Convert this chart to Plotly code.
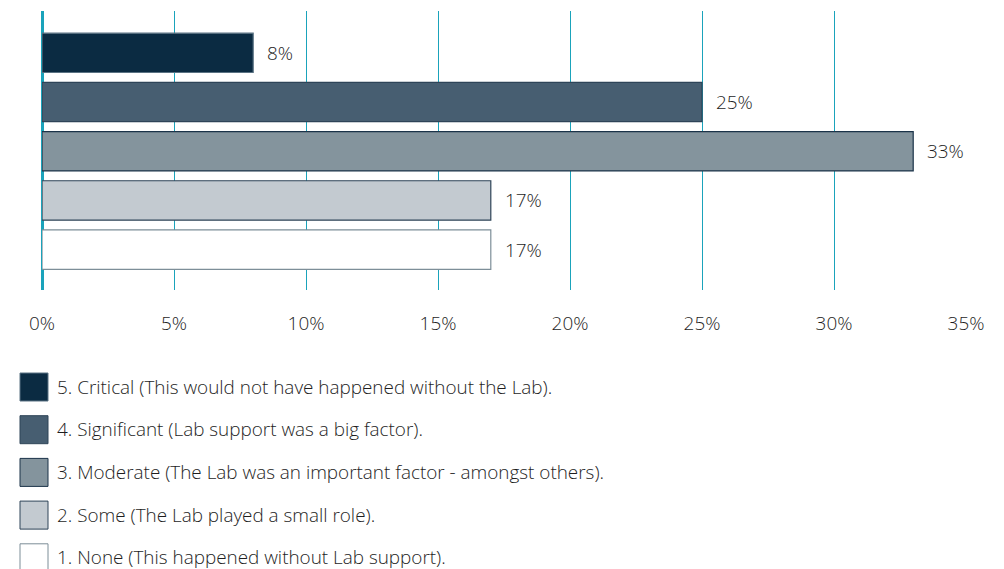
import plotly.graph_objects as go

categories = [
    "5. Critical (This would not have happened without the Lab).",
    "4. Significant (Lab support was a big factor).",
    "3. Moderate (The Lab was an important factor - amongst others).",
    "2. Some (The Lab played a small role).",
    "1. None (This happened without Lab support).",
]
values = [8, 25, 33, 17, 17]
labels = ["8%", "25%", "33%", "17%", "17%"]
fill_colors = ["#0b2b42", "#475e71", "#84949d", "#c3cad0", "#ffffff"]
line_colors = ["#5a7283", "#2e4458", "#1b3349", "#2e4458", "#7d8e98"]
tick_vals = [0, 5, 10, 15, 20, 25, 30, 35]
tick_text = ["0%", "5%", "10%", "15%", "20%", "25%", "30%", "35%"]

FONT = "'Open Sans', Lato, sans-serif"
FSIZE = 18.9
FWEIGHT = 300
TEXT_COLOR = "#1e1e1e"
GRID = "#1aa3bb"

W, H = 1004, 569
plot_top, plot_bottom = 11, 290
plot_left, plot_right = 42, 966
ph = plot_bottom - plot_top
pw = plot_right - plot_left


def px_to_paper_x(px):
    return (px - plot_left) / pw


def px_to_paper_y(py):
    return (plot_bottom - py) / ph


def mkfont():
    return dict(family=FONT, size=FSIZE, color=TEXT_COLOR, weight=FWEIGHT)


ypos = list(range(len(categories)))

fig = go.Figure()
fig.add_trace(go.Bar(
    x=values, y=ypos, orientation="h", width=0.8,
    marker=dict(color=fill_colors, line=dict(color=line_colors, width=1.2)),
    showlegend=False, hoverinfo="skip",
))

annotations = []
for v, yv, t in zip(values, ypos, labels):
    annotations.append(dict(
        x=v, y=yv, xref="x", yref="y", text=t, showarrow=False,
        xanchor="left", yanchor="middle", xshift=12,
        font=mkfont(),
    ))

# Legend drawn manually with large squares
leg_top = 373
leg_step = 42.7
shapes = []
for i, (cat, fc, lc) in enumerate(zip(categories, fill_colors, line_colors)):
    y0 = leg_top + i * leg_step
    y1 = y0 + 28
    shapes.append(dict(
        type="rect", xref="paper", yref="paper",
        x0=px_to_paper_x(20), x1=px_to_paper_x(48),
        y0=px_to_paper_y(y1), y1=px_to_paper_y(y0),
        fillcolor=fc, line=dict(color=lc, width=1), layer="above",
    ))
    annotations.append(dict(
        x=px_to_paper_x(55), y=px_to_paper_y(y0 + 13.5), xref="paper", yref="paper",
        text=cat, showarrow=False, xanchor="left", yanchor="middle",
        font=mkfont(),
    ))

fig.update_layout(
    width=W, height=H,
    margin=dict(l=plot_left, r=W - plot_right, t=plot_top, b=H - plot_bottom),
    paper_bgcolor="white", plot_bgcolor="white",
    font=mkfont(),
    xaxis=dict(
        range=[0, 35], tickvals=tick_vals, ticktext=tick_text,
        showgrid=True, gridcolor=GRID, gridwidth=1,
        zeroline=True, zerolinecolor=GRID, zerolinewidth=2.5,
        showline=False, ticks="outside", ticklen=16, tickcolor="rgba(0,0,0,0)",
        tickfont=mkfont(),
        fixedrange=True,
    ),
    yaxis=dict(
        range=[4.82, -0.85], showticklabels=False, showgrid=False,
        zeroline=False, showline=False, fixedrange=True,
    ),
    shapes=shapes,
    annotations=annotations,
    bargap=0.2,
)

fig.write_html("out.html")
